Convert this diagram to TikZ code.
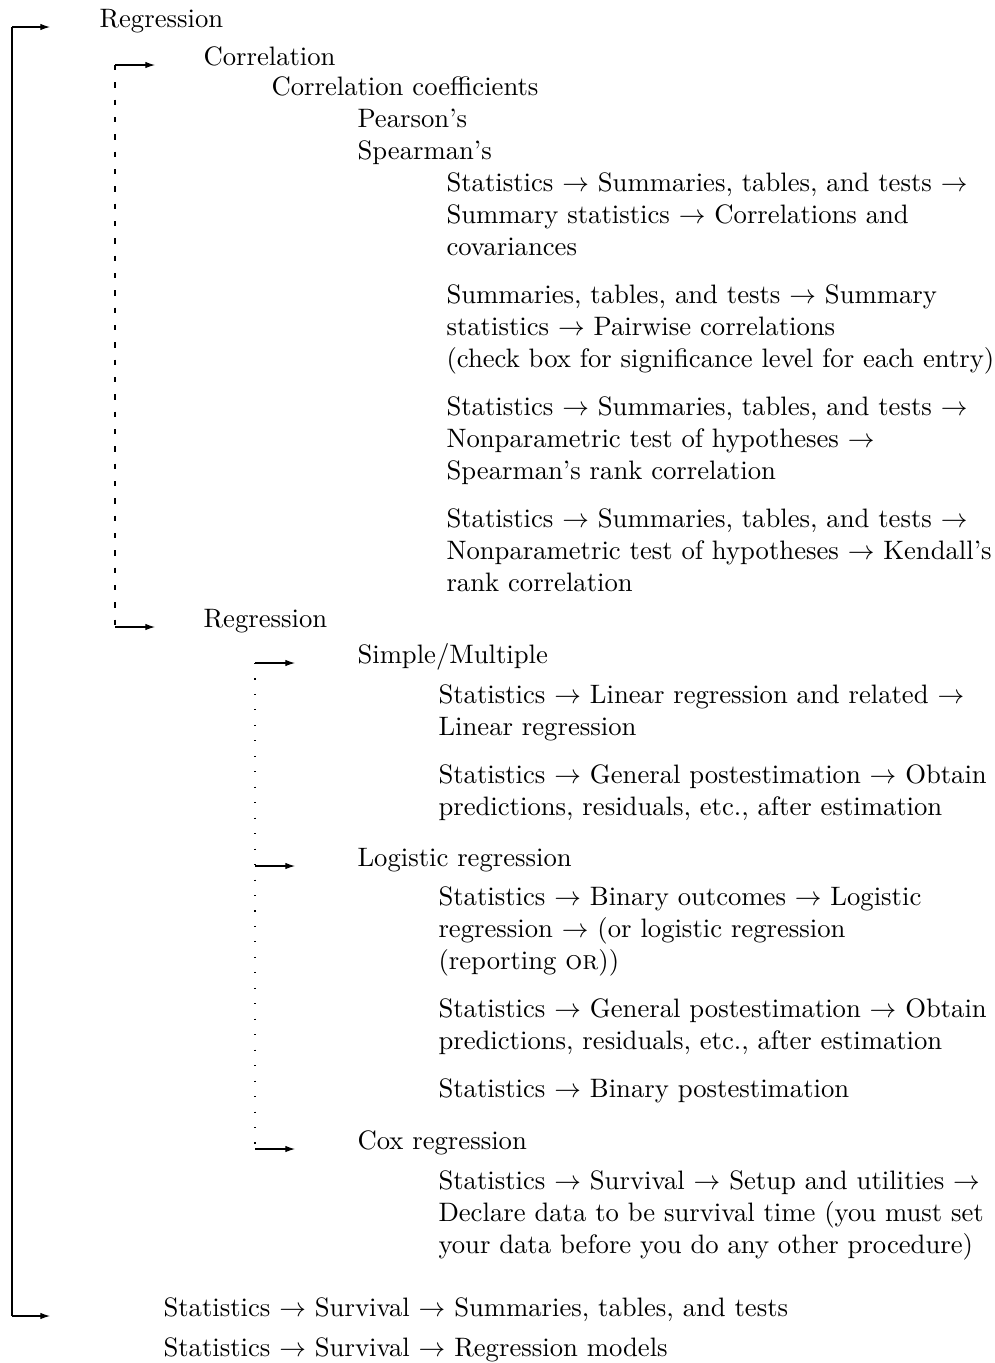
\documentclass[tikz,border=0pt]{standalone}
\usepackage{amsmath}
\usepackage{amssymb}
\usepackage{tikz}
\usetikzlibrary{arrows.meta}

\begin{document}
\begin{tikzpicture}[x=0.375pt, y=-0.375pt,
    item/.style={anchor=base west, inner sep=0pt, align=left},
    branch/.style={-{Latex[length=3.6pt, width=2.4pt]}},
    dashrail/.style={dash pattern=on 2pt off 4.5pt},
    dotrail/.style={dash pattern=on 0.4pt off 5.4pt}
]
    \useasboundingbox (0,0) rectangle (995,1363);
    % multi-line items are placed by the baseline of their last line
    \node[item] (top) at (99,27) {Regression};
    \node[item] (corr) at (203,65) {Correlation};
    \node[item] (coeffs) at (271,95) {Correlation coefficients};
    \node[item] (pearson) at (357,127) {Pearson's};
    \node[item] (spearman) at (357,159) {Spearman's};
    \node[item] (corrmenu) at (446,255) {Statistics $\rightarrow$ Summaries, tables, and tests $\rightarrow$\\
        Summary statistics $\rightarrow$ Correlations and\\ covariances};
    \node[item] (pairmenu) at (446,367) {Summaries, tables, and tests $\rightarrow$ Summary\\
        statistics $\rightarrow$ Pairwise correlations\\ (check box for significance level for each entry)};
    \node[item] (spearmenu) at (446,479) {Statistics $\rightarrow$ Summaries, tables, and tests $\rightarrow$\\
        Nonparametric test of hypotheses $\rightarrow$\\ Spearman's rank correlation};
    \node[item] (kendallmenu) at (446,591) {Statistics $\rightarrow$ Summaries, tables, and tests $\rightarrow$\\
        Nonparametric test of hypotheses $\rightarrow$ Kendall's\\ rank correlation};
    \node[item] (regr) at (203,627) {Regression};
    \node[item] (simple) at (357,663) {Simple/Multiple};
    \node[item] (linmenu) at (438,735) {Statistics $\rightarrow$ Linear regression and related $\rightarrow$\\
        Linear regression};
    \node[item] (predmenu) at (438,815) {Statistics $\rightarrow$ General postestimation $\rightarrow$ Obtain\\
        predictions, residuals, etc., after estimation};
    \node[item] (logistic) at (357,866) {Logistic regression};
    \node[item] (logitmenu) at (438,969) {Statistics $\rightarrow$ Binary outcomes $\rightarrow$ Logistic\\
        regression $\rightarrow$ (or logistic regression\\ (reporting \textsc{or}))};
    \node[item] (logitpred) at (438,1049) {Statistics $\rightarrow$ General postestimation $\rightarrow$ Obtain\\
        predictions, residuals, etc., after estimation};
    \node[item] (binpost) at (438,1097) {Statistics $\rightarrow$ Binary postestimation};
    \node[item] (cox) at (357,1149) {Cox regression};
    \node[item] (stset) at (438,1253) {Statistics $\rightarrow$ Survival $\rightarrow$ Setup and utilities $\rightarrow$\\
        Declare data to be survival time (you must set\\ your data before you do any other procedure)};
    \node[item] (survsum) at (163,1316) {Statistics $\rightarrow$ Survival $\rightarrow$ Summaries, tables, and tests};
    \node[item] (survreg) at (163,1356) {Statistics $\rightarrow$ Survival $\rightarrow$ Regression models};

    % rails
    \coordinate (outer) at (12,0);
    \coordinate (mid) at (115,0);
    \coordinate (inner) at (255,0);

    \draw (outer |- top.base) -- (outer |- survsum.base);
    \draw[branch, shorten >=18.375pt] (outer |- top.base) -- (top.base west);
    \draw[branch, shorten >=42.375pt] (outer |- survsum.base) -- (survsum.base west);

    \draw[dashrail] (mid |- corr.base) -- (mid |- regr.base);
    \draw[branch, shorten >=18pt] (mid |- corr.base) -- (corr.base west);
    \draw[branch, shorten >=18pt] (mid |- regr.base) -- (regr.base west);

    \draw[dotrail] (inner |- simple.base) -- (inner |- cox.base);
    \draw[branch, shorten >=23.25pt] (inner |- simple.base) -- (simple.base west);
    \draw[branch, shorten >=23.25pt] (inner |- logistic.base) -- (logistic.base west);
    \draw[branch, shorten >=23.25pt] (inner |- cox.base) -- (cox.base west);
\end{tikzpicture}
\end{document}
